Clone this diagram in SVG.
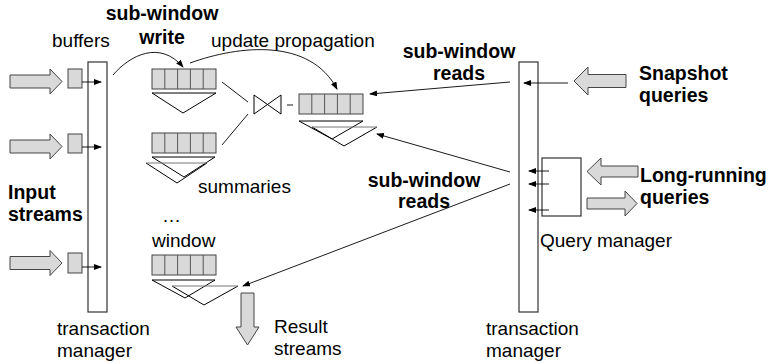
<svg xmlns="http://www.w3.org/2000/svg" width="770" height="363" viewBox="0 0 770 363">
<style>
text{font-family:"Liberation Sans",Arial,sans-serif;font-size:19px;fill:#000}
.b{font-weight:bold;font-size:19.5px}
.blk{fill:#d9d9d9;stroke:#444;stroke-width:1}
.buf{fill:#d9d9d9;stroke:#444;stroke-width:1}
.cell{stroke:#555;stroke-width:1}
.bar{fill:#fff;stroke:#333;stroke-width:1.2}
.tri{fill:none;stroke:#000;stroke-width:1}
.tg{stroke:#777;stroke-width:1}
.ln{fill:none;stroke:#000;stroke-width:0.9}
.la{fill:none;stroke:#000;stroke-width:0.9;marker-end:url(#ah)}
</style>
<defs>
<marker id="ah" markerWidth="8" markerHeight="6" refX="7" refY="3" orient="auto" markerUnits="userSpaceOnUse">
<path d="M0,0 L8,3 L0,6 Z" fill="#000"/>
</marker>
<path id="rarr" d="M0,-6.5 H40 V-12.5 L52,0 L40,12.5 V6.5 H0 Z"/>
<g id="win">
<rect class="buf" x="0" y="0" width="64" height="20"/>
<line class="cell" x1="12.8" y1="0" x2="12.8" y2="20"/>
<line class="cell" x1="25.6" y1="0" x2="25.6" y2="20"/>
<line class="cell" x1="38.4" y1="0" x2="38.4" y2="20"/>
<line class="cell" x1="51.2" y1="0" x2="51.2" y2="20"/>
</g>
</defs>

<g id="input-arrows">
<use href="#rarr" class="blk" transform="translate(10,81.5)"/>
<use href="#rarr" class="blk" transform="translate(10,146.5)"/>
<use href="#rarr" class="blk" transform="translate(10,263)"/>
</g>
<g id="buffers">
<rect class="buf" x="68" y="69" width="14" height="19"/>
<rect class="buf" x="68" y="134" width="14" height="19"/>
<rect class="buf" x="68" y="253" width="14" height="20"/>
</g>
<g id="tm-left"><rect class="bar" x="88" y="62" width="19" height="250"/></g>
<g id="tm-right"><rect class="bar" x="519" y="62" width="19" height="250"/></g>
<g id="query-manager"><rect class="bar" x="542" y="158" width="39" height="58"/></g>

<g id="window1">
<use href="#win" x="152" y="69"/>
<polygon class="tri" points="152,93 216,93 183,113"/>
</g>
<g id="window2">
<use href="#win" x="152" y="133"/>
<polygon class="tri" points="152,157 215,157 184,177"/>
<polyline class="tri" points="146,163 177,183 207,163"/>
<line class="tg" x1="146" y1="163" x2="207" y2="163"/>
</g>
<g id="window3">
<use href="#win" x="152" y="255"/>
<polygon class="tri" points="152,280 215,280 185,298"/>
<polyline class="tri" points="172,286 204,305 238,286"/>
<line class="tg" x1="172" y1="286" x2="238" y2="286"/>
</g>
<g id="window-right">
<use href="#win" x="299" y="94"/>
<polygon class="tri" points="299,121 363,121 332,139"/>
<polyline class="tri" points="312,127 344,146 377,127"/>
<line class="tg" x1="312" y1="127" x2="377" y2="127"/>
</g>
<g id="join">
<polygon class="tri" points="254,95 281,114 281,95 254,114"/>
</g>

<g id="snapshot-arrow"><path class="blk" d="M574,81 L588,67 V74.5 H626 V87.5 H588 V95 Z"/></g>
<g id="long-in-arrow"><path class="blk" d="M587,171.5 L601,158 V166 H638 V177 H601 V185 Z"/></g>
<g id="long-out-arrow"><path class="blk" d="M587,198 H625 V191 L637,203.5 L625,216 V209 H587 Z"/></g>
<g id="result-arrow"><path class="blk" d="M241,293 H254 V327 H259 L247.5,345 L236,327 H241 Z"/></g>

<g id="connectors">
<line class="la" x1="82" y1="82" x2="101" y2="82"/>
<line class="la" x1="82" y1="147" x2="101" y2="147"/>
<line class="la" x1="82" y1="267" x2="101" y2="267"/>
<path class="la" d="M113,75 C130,55 160,40 183,67"/>
<path class="la" d="M190,63 C240,45 310,38 337,89"/>
<line class="ln" x1="222" y1="82" x2="248" y2="102"/>
<line class="ln" x1="222" y1="145" x2="248" y2="114"/>
<line class="ln" x1="287" y1="105" x2="293" y2="105"/>
<line class="la" x1="568" y1="83" x2="524" y2="83"/>
<line class="la" x1="510" y1="82" x2="370" y2="94"/>
<line class="la" x1="510" y1="172" x2="377" y2="134"/>
<line class="la" x1="510" y1="184" x2="243" y2="286"/>
<line class="la" x1="549" y1="171" x2="529" y2="171"/>
<line class="la" x1="549" y1="184" x2="529" y2="184"/>
<line class="la" x1="549" y1="210" x2="529" y2="210"/>
</g>

<g id="labels">
<text x="52" y="47">buffers</text>
<text class="b" x="162" y="20" text-anchor="middle">sub-window</text>
<text class="b" x="162" y="44" text-anchor="middle">write</text>
<text x="211" y="47">update propagation</text>
<text class="b" x="459" y="58" text-anchor="middle">sub-window</text>
<text class="b" x="459" y="80" text-anchor="middle">reads</text>
<text class="b" x="639" y="80">Snapshot</text>
<text class="b" x="639" y="102">queries</text>
<text x="198" y="193">summaries</text>
<text class="b" x="424" y="187" text-anchor="middle">sub-window</text>
<text class="b" x="424" y="208" text-anchor="middle">reads</text>
<text class="b" x="640" y="182">Long-running</text>
<text class="b" x="640" y="204">queries</text>
<text class="b" x="8" y="199">Input</text>
<text class="b" x="8" y="221">streams</text>
<text x="162" y="222">…</text>
<text x="152" y="247">window</text>
<text x="540" y="247">Query manager</text>
<text x="57" y="335">transaction</text>
<text x="57" y="357">manager</text>
<text x="274" y="333">Result</text>
<text x="274" y="355">streams</text>
<text x="486" y="335">transaction</text>
<text x="486" y="357">manager</text>
</g>
</svg>
